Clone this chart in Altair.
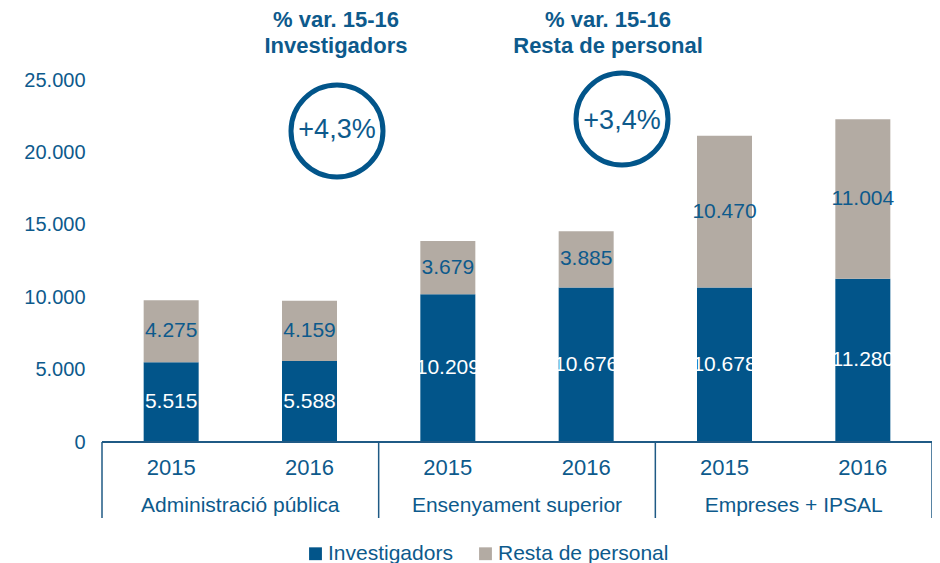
import altair as alt
import pandas as pd

categories = ["Administració pública", "Ensenyament superior", "Empreses + IPSAL"]
years = ["2015", "2016"]
investigadors = [5515, 5588, 10209, 10676, 10678, 11280]
resta = [4275, 4159, 3679, 3885, 10470, 11004]
series = ["Investigadors", "Resta de personal"]
var_title_1 = ["% var. 15-16", "Investigadors"]
var_title_2 = ["% var. 15-16", "Resta de personal"]
var_values = ["+4,3%", "+3,4%"]
y_ticks = [0, 5000, 10000, 15000, 20000, 25000]

BLUE = "#02558a"
GRAY = "#b3aba3"
TEXT_BLUE = "#0d5a8c"
LINE = "#1f5a85"
FONT = "Liberation Sans"


def fmt(v):
    return f"{v:,}".replace(",", ".")


rows = []
slots = []
for i in range(6):
    cat = categories[i // 2]
    yr = years[i % 2]
    pos = i + 0.5
    inv = investigadors[i]
    res = resta[i]
    rows.append(dict(pos=pos, serie=series[0], start=0, end=inv, mid=inv / 2, label=fmt(inv)))
    rows.append(dict(pos=pos, serie=series[1], start=inv, end=inv + res, mid=inv + res / 2, label=fmt(res)))
    slots.append(dict(pos=pos, year=yr))
bars_df = pd.DataFrame(rows)
slots_df = pd.DataFrame(slots)
cats_df = pd.DataFrame({"pos": [1, 3, 5], "cat": categories})
seps_df = pd.DataFrame({"sep": [0, 2, 4, 6]})
base_df = pd.DataFrame({"x": [0], "x2": [6], "y": [0]})

xscale = alt.Scale(domain=[0, 6], nice=False, zero=False, padding=0)
yscale = alt.Scale(domain=[0, 25000], nice=False, padding=0)

bars = alt.Chart(bars_df).mark_bar(size=55).encode(
    x=alt.X("pos:Q", scale=xscale, axis=None),
    y=alt.Y(
        "start:Q",
        scale=yscale,
        axis=alt.Axis(
            values=y_ticks,
            labelExpr="replace(format(datum.value, ','), ',', '.')",
            title=None,
            domain=False,
            ticks=False,
            grid=False,
            labelPadding=17,
            labelFontSize=20,
            labelFont=FONT,
            labelColor=TEXT_BLUE,
        ),
    ),
    y2="end:Q",
    color=alt.Color(
        "serie:N",
        scale=alt.Scale(domain=series, range=[BLUE, GRAY]),
        legend=alt.Legend(
            orient="none",
            legendX=203,
            legendY=463,
            direction="horizontal",
            title=None,
            symbolType="square",
            symbolSize=165,
            symbolStrokeWidth=0,
            labelFontSize=21,
            labelFont=FONT,
            labelColor=TEXT_BLUE,
            labelLimit=0,
            columnPadding=22,
            labelOffset=2,
        ),
    ),
)

lab_inv = alt.Chart(bars_df).transform_filter(alt.datum.serie == series[0]).mark_text(
    fontSize=21, font=FONT, color="white"
).encode(x=alt.X("pos:Q", scale=xscale), y=alt.Y("mid:Q", scale=yscale), text="label:N")

lab_res = alt.Chart(bars_df).transform_filter(alt.datum.serie == series[1]).mark_text(
    fontSize=21, font=FONT, color=TEXT_BLUE
).encode(x=alt.X("pos:Q", scale=xscale), y=alt.Y("mid:Q", scale=yscale), text="label:N")

baseline = alt.Chart(base_df).mark_rule(color=LINE, strokeWidth=2).encode(
    x=alt.X("x:Q", scale=xscale), x2="x2:Q", y=alt.Y("y:Q", scale=yscale)
)

seps = alt.Chart(seps_df).mark_rule(color=LINE, strokeWidth=1.5).encode(
    x=alt.X("sep:Q", scale=xscale), y=alt.value(362), y2=alt.value(438)
)

year_labels = alt.Chart(slots_df).mark_text(fontSize=22, font=FONT, color=TEXT_BLUE).encode(
    x=alt.X("pos:Q", scale=xscale), y=alt.value(388), text="year:N"
)

cat_labels = alt.Chart(cats_df).mark_text(fontSize=21, font=FONT, color=TEXT_BLUE).encode(
    x=alt.X("pos:Q", scale=xscale), y=alt.value(426), text="cat:N"
)

ann_df = pd.DataFrame(
    {
        "line": var_title_1 + var_title_2,
        "ax": [234, 234, 506, 506],
        "ay": [-60, -34, -60, -34],
    }
)
ann_titles = alt.Chart(ann_df).mark_text(
    fontSize=22, font=FONT, fontWeight="bold", color=TEXT_BLUE
).encode(x=alt.X("ax:Q", scale=None), y=alt.Y("ay:Q", scale=None), text="line:N")

circ_df = pd.DataFrame({"cx": [235, 520], "cy": [51, 39], "txt": var_values, "ty": [50, 41]})
circles = alt.Chart(circ_df).mark_point(
    shape="circle", filled=False, size=8464, strokeWidth=5, color=BLUE, opacity=1
).encode(x=alt.X("cx:Q", scale=None), y=alt.Y("cy:Q", scale=None))
circ_text = alt.Chart(circ_df).mark_text(fontSize=27, font=FONT, color=TEXT_BLUE).encode(
    x=alt.X("cx:Q", scale=None), y=alt.Y("ty:Q", scale=None), text="txt:N"
)

chart = (
    alt.layer(bars, lab_inv, lab_res, baseline, seps, year_labels, cat_labels, ann_titles, circles, circ_text)
    .properties(
        width=830,
        height=362,
        autosize=alt.AutoSizeParams(type="none"),
        padding={"left": 94, "top": 72, "right": 0, "bottom": 121},
    )
    .configure_view(stroke=None)
)

chart.save("out.html", embed_options={"renderer": "svg", "actions": False})
